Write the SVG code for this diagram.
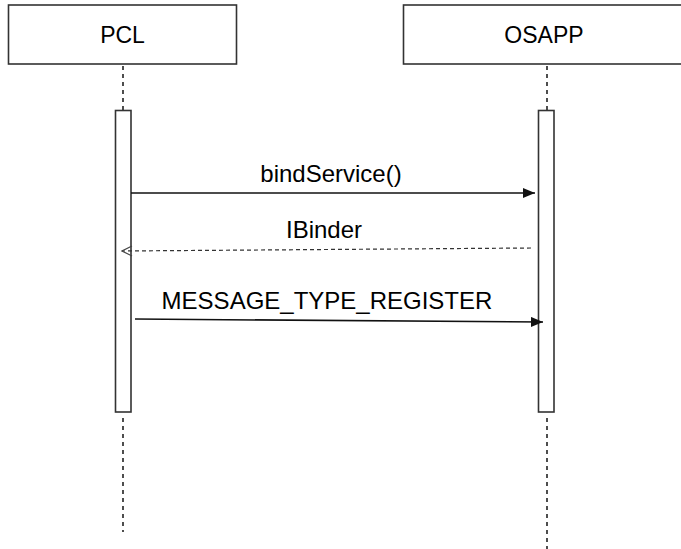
<svg xmlns="http://www.w3.org/2000/svg" width="681" height="549" viewBox="0 0 681 549">
  <style>
    .box { fill: #ffffff; stroke: #333333; stroke-width: 1.6; }
    .bar { fill: #ffffff; stroke: #333333; stroke-width: 1.6; }
    .life { stroke: #222222; stroke-width: 1.6; stroke-dasharray: 4 4; fill: none; }
    .msg { stroke: #111111; stroke-width: 1.5; fill: none; }
    .ret { stroke: #333333; stroke-width: 1.2; stroke-dasharray: 4 3; fill: none; }
    .head { font-family: "Liberation Sans", Arial, sans-serif; font-size: 23px; fill: #000000; text-anchor: middle; }
    .label { font-family: "Liberation Sans", Arial, sans-serif; font-size: 24px; fill: #000000; text-anchor: middle; }
  </style>
  <defs>
    <marker id="solidHead" viewBox="0 0 12 10" refX="12" refY="5" markerWidth="12" markerHeight="10" markerUnits="userSpaceOnUse" orient="auto">
      <path d="M0,0 L12,5 L0,10 Z" fill="#111111"/>
    </marker>
    <marker id="openHead" viewBox="0 0 12 12" refX="11" refY="6" markerWidth="12" markerHeight="12" markerUnits="userSpaceOnUse" orient="auto">
      <path d="M1,1 L11,6 L1,11" fill="none" stroke="#444444" stroke-width="1.2"/>
    </marker>
  </defs>

  <rect width="681" height="549" fill="#ffffff"/>

  <!-- PCL participant -->
  <g id="pcl">
    <rect class="box" x="8.5" y="5" width="228" height="59"/>
    <text class="head" x="122.5" y="43">PCL</text>
    <line class="life" x1="123" y1="66" x2="123" y2="110"/>
    <line class="life" x1="123" y1="418" x2="123" y2="532"/>
    <rect class="bar" x="115.5" y="110.5" width="15.5" height="301.5"/>
  </g>

  <!-- OSAPP participant -->
  <g id="osapp">
    <rect class="box" x="403.5" y="5" width="290" height="59"/>
    <text class="head" x="544" y="43">OSAPP</text>
    <line class="life" x1="547" y1="66" x2="547" y2="110"/>
    <line class="life" x1="547" y1="418" x2="547" y2="549"/>
    <rect class="bar" x="538.5" y="110.5" width="15.5" height="301.5"/>
  </g>

  <!-- messages -->
  <g id="connectors">
    <line class="msg" x1="131" y1="193" x2="535" y2="193" marker-end="url(#solidHead)"/>
    <line class="ret" x1="531" y1="248" x2="122" y2="251" marker-end="url(#openHead)"/>
    <line class="msg" x1="135" y1="319" x2="543" y2="322" marker-end="url(#solidHead)"/>
  </g>

  <g id="labels">
    <text class="label" x="331" y="182">bindService()</text>
    <text class="label" x="324" y="238">IBinder</text>
    <text class="label" x="327" y="309">MESSAGE_TYPE_REGISTER</text>
  </g>
</svg>
